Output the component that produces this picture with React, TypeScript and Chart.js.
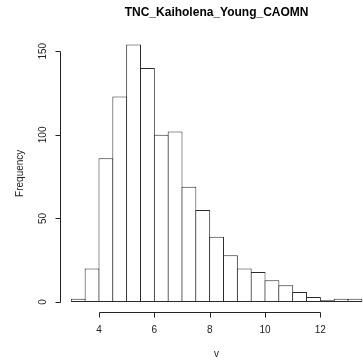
import React, { useEffect, useRef } from "react";
import { Chart, registerables } from "chart.js";

Chart.register(...registerables);

const TITLE = "TNC_Kaiholena_Young_CAOMN";
const X_LABEL = "v";
const Y_LABEL = "Frequency";
const binStarts = [3, 3.5, 4, 4.5, 5, 5.5, 6, 6.5, 7, 7.5, 8, 8.5, 9, 9.5, 10, 10.5, 11, 11.5, 12, 12.5, 13];
const counts = [2, 20, 86, 123, 154, 140, 100, 102, 69, 55, 39, 28, 20, 18, 13, 10, 6, 3, 1, 2, 2];
const BIN_WIDTH = 0.5;
const xTicks = [4, 6, 8, 10, 12];
const yTicks = [0, 50, 100, 150];

const X_MIN = 2.58;
const X_MAX = 13.92;
const Y_MIN = -6.16;
const Y_MAX = 160.16;

const FONT = "'Liberation Sans', Arial, sans-serif";

const rAxesPlugin = {
  id: "rAxes",
  afterDraw(chart: any) {
    const ctx = chart.ctx as CanvasRenderingContext2D;
    const xs = chart.scales.x;
    const ys = chart.scales.y;
    const area = chart.chartArea;
    ctx.save();
    ctx.strokeStyle = "#222";
    ctx.fillStyle = "#222";
    ctx.lineWidth = 1;

    // Y axis
    const yAxisX = Math.round(area.left) + 0.5;
    const y0 = Math.round(ys.getPixelForValue(yTicks[0])) + 0.5;
    const y1 = Math.round(ys.getPixelForValue(yTicks[yTicks.length - 1])) + 0.5;
    ctx.beginPath();
    ctx.moveTo(yAxisX, y0);
    ctx.lineTo(yAxisX, y1);
    yTicks.forEach((v) => {
      const py = Math.round(ys.getPixelForValue(v)) + 0.5;
      ctx.moveTo(yAxisX, py);
      ctx.lineTo(yAxisX - 5, py);
    });
    ctx.stroke();
    ctx.font = `10px ${FONT}`;
    ctx.textAlign = "center";
    ctx.textBaseline = "middle";
    yTicks.forEach((v) => {
      const py = ys.getPixelForValue(v);
      ctx.save();
      ctx.translate(43.5, py);
      ctx.rotate(-Math.PI / 2);
      ctx.fillText(String(v), 0, 0);
      ctx.restore();
    });

    // X axis
    const xAxisY = Math.round(area.bottom) + 0.5;
    const x0 = Math.round(xs.getPixelForValue(xTicks[0])) + 0.5;
    const x1 = Math.round(xs.getPixelForValue(xTicks[xTicks.length - 1])) + 0.5;
    ctx.beginPath();
    ctx.moveTo(x0, xAxisY);
    ctx.lineTo(x1, xAxisY);
    xTicks.forEach((v) => {
      const px = Math.round(xs.getPixelForValue(v)) + 0.5;
      ctx.moveTo(px, xAxisY);
      ctx.lineTo(px, xAxisY + 5);
    });
    ctx.stroke();
    xTicks.forEach((v) => {
      ctx.fillText(String(v), xs.getPixelForValue(v), 330.5);
    });

    const cx = (area.left + area.right) / 2;
    const cy = (area.top + area.bottom) / 2;
    ctx.fillText(X_LABEL, cx, 354.5);
    ctx.save();
    ctx.translate(20, cy);
    ctx.rotate(-Math.PI / 2);
    ctx.fillText(Y_LABEL, 0, 0);
    ctx.restore();

    // Title
    ctx.fillStyle = "#000";
    ctx.font = `bold 12px ${FONT}`;
    ctx.fillText(TITLE, cx, 12.5);
    ctx.restore();
  },
};

export default function App() {
  const ref = useRef<HTMLCanvasElement | null>(null);

  useEffect(() => {
    if (!ref.current) return;
    const data = binStarts.map((s, i) => ({ x: s + BIN_WIDTH / 2, y: counts[i] }));
    const chart = new Chart(ref.current, {
      type: "bar",
      data: {
        datasets: [
          {
            data,
            backgroundColor: "#ffffff",
            borderColor: "#2a2a2a",
            borderWidth: 1,
            borderSkipped: false,
            barPercentage: 1.072,
            categoryPercentage: 1,
            grouped: false,
          } as any,
        ],
      },
      options: {
        responsive: false,
        animation: false,
        devicePixelRatio: 1,
        layout: { padding: { left: 59.7, right: 434 - 373.5, top: 34.3, bottom: 362 - 312.3 } },
        plugins: { legend: { display: false }, tooltip: { enabled: false }, title: { display: false } },
        scales: {
          x: { type: "linear", min: X_MIN, max: X_MAX, display: false, offset: false },
          y: { type: "linear", min: Y_MIN, max: Y_MAX, display: false },
        },
      },
      plugins: [rAxesPlugin],
    });
    return () => chart.destroy();
  }, []);

  return (
    <div style={{ position: "fixed", left: 0, top: 0, width: 434, height: 362, background: "#fff" }}>
      <canvas ref={ref} width={434} height={362} style={{ display: "block" }} />
    </div>
  );
}
